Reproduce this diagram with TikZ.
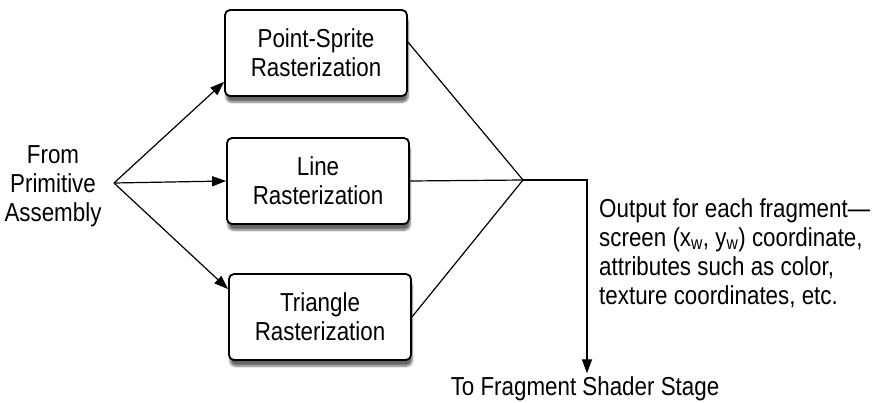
\documentclass[tikz,border=0pt]{standalone}
\usepackage{fontspec}
\setmainfont[FakeStretch=0.86]{Liberation Sans}
\usetikzlibrary{calc,arrows.meta,shadows.blur}

\begin{document}
\begin{tikzpicture}[x=1pt,y=-1pt,font=\fontsize{26}{29}\selectfont,
    stage/.style={draw,line width=1.8pt,rounded corners=5pt,fill=white,
      minimum width=182pt,minimum height=86pt,align=center,
      blur shadow={shadow xshift=1pt,shadow yshift=-6pt,shadow blur steps=6,shadow opacity=60}},
    wire/.style={line width=1.2pt},
    >={Triangle[length=14pt,width=10pt]}]
    \useasboundingbox (0,0) rectangle (876,402);
    % stages
    \node[stage](point)at(316,53){Point-Sprite\\Rasterization};
    \node[stage](line)at(318,181){Line\\Rasterization};
    \node[stage](tri)at(320,317){Triangle\\Rasterization};
    \node[align=center](from)at(53,186){From\\Primitive\\Assembly};
    \coordinate(split)at(114,183);
    \coordinate(join)at(523,180);
    \coordinate(turn)at(587,180);
    \node(to)at(585,389){To Fragment Shader Stage};
    \node[anchor=north west,align=left,inner sep=0pt](out)at(599,198)
      {Output for each fragment—\\screen (x\textsubscript{w}, y\textsubscript{w}) coordinate,\\attributes such as color,\\texture coordinates, etc.};
    % fan out
    \draw[wire,->](split)--($(point.south west)+(0,-15)$);
    \draw[wire,->](split)--(line.west);
    \draw[wire,->](split)--($(tri.north west)+(0,16)$);
    % fan in
    \draw[wire]($(point.east)+(0,-11)$)--(join);
    \draw[wire](line.east)--(join);
    \draw[wire](tri.east)--(join);
    \draw[wire,->](join)--(turn)--(turn|-to.north);
\end{tikzpicture}
\end{document}
